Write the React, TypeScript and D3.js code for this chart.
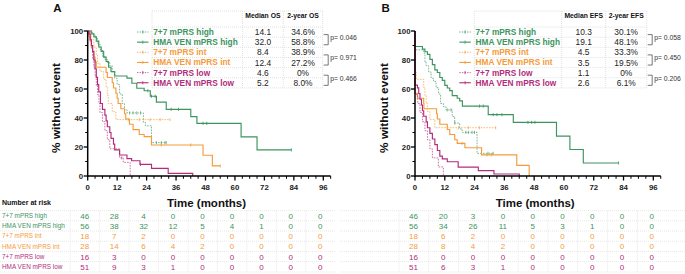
import React from "react";
import * as d3 from "d3";

// ---------- DATA ----------
const seriesNames = ["7+7 mPRS high", "HMA VEN mPRS high", "7+7 mPRS int", "HMA VEN mPRS int", "7+7 mPRS low", "HMA VEN mPRS low"];
const timeTicks = [0, 12, 24, 36, 48, 60, 72, 84, 96];
const yTicks = [0, 20, 40, 60, 80, 100];

// Panel A (OS) step points [time, % without event]
const osHigh77 = [[0,100],[2,97.8],[3,95.6],[4,91.3],[5,87],[6,82.6],[7,80.4],[8,78.3],[9,76],[10,71.7],[11,67.4],[12,63],[13,56.5],[14.1,50],[15,45.7],[16,43.5],[22.7,37],[23.5,34.6],[26,23]];
const osHighVen = [[0,100],[1.5,98],[2.5,96],[3.5,93],[4.5,89],[5.5,86],[6.5,82],[7.5,79],[8.5,75],[9.5,72],[11,69],[16,67.5],[18,64],[20,60.5],[23,58.8],[25.5,55],[28,51],[32,46],[42,41],[44.5,36.3],[62.5,27],[69,18]];
const osInt77 = [[0,100],[1.5,94.4],[2.5,88.9],[3.5,83.3],[4,77.8],[5,72.2],[6.5,66.7],[7.5,61.1],[8,55.6],[8.4,50],[10,44.4],[11.5,38.9]];
const osIntVen = [[0,100],[0.5,96.4],[1,92.9],[1.5,89.3],[2,85.7],[2.5,82.1],[3,78.6],[3.5,75],[7.5,71.4],[8,67.9],[10,64.3],[10.5,60.7],[11.5,57.1],[12,53.6],[12.4,50],[13.5,46.4],[15,42.9],[15.5,39.3],[17,35.7],[18.5,32],[21,28.6],[23,27.2],[26,21.4],[47,14.3],[50.8,7]];
const osLow77 = [[0,100],[1,93.75],[1.5,87.5],[2,81.25],[2.5,75],[3,68.75],[3.5,62.5],[4,56.25],[4.6,50],[5,43.75],[6,37.5],[7,31.25],[8,25],[9,18.75],[13,12.5],[14.5,9.4],[17.3,0]];
const osLowVen = [[0,100],[0.5,98],[1,94],[1.5,90],[2,86],[2.5,80],[3,74],[3.5,68],[4,63],[4.5,58],[5.2,50],[6,46],[7,42],[7.5,38],[8,34],[9,30],[9.5,26],[10.5,22],[11,18],[13,14.5],[16,12],[17.9,10.5],[21.3,8],[26,5.3],[32.8,1.8],[42.8,0]];
const osEnds = [32, 83, 33.5, 54, 17.3, 42.8];
const osCensors = [[17,18.5,20,21.5,28,30,31.5,32],[24.5,26,27.5,34,37,47,48.5,83],[16.5,21,25.4,29.5,33.5],[30,42,54],[13.9],[21.5]];

// Panel B (EFS) step points
const efsHigh77 = [[0,100],[0,87],[3.5,84.8],[4,78.3],[4.5,76],[5.5,71.7],[6.5,67.4],[7.5,65.2],[8.5,60.9],[9.5,56.5],[10.3,50],[11.5,47.8],[12.5,45.6],[15,41],[16,36.5],[18,32.5],[19,30.1],[25,15.6]];
const efsHighVen = [[0,100],[0,89.3],[3,87.5],[4,85.7],[5,83.9],[6,80.4],[7,76.8],[8,73.2],[9,71.4],[10,67.9],[11,66],[12,62.5],[13,60.7],[14,58.9],[15,55.4],[17,53.6],[18,51.8],[19.1,48.2],[29.5,42.3],[39.6,37],[57,27.5],[62.4,18.3],[67.8,9]];
const efsInt77 = [[0,100],[0,72.2],[0.5,66.7],[3.5,61.1],[4,55.6],[4.5,50],[5,44.4],[6,38.9],[8,33.3]];
const efsIntVen = [[0,100],[0,57.1],[1,53.6],[3.5,50],[3.6,46.4],[8.7,42.9],[9,39.3],[10,35.7],[13,32.1],[14,28.6],[16,25],[17,22.5],[20.1,19.5],[26.8,14.6],[41,7.3],[46,0]];
const efsLow77 = [[0,100],[0,56.25],[1.1,50],[2,43.75],[3,37.5],[4,31.25],[5,25],[6,18.75],[7,12.5],[9.4,6.25],[11.4,0]];
const efsLowVen = [[0,100],[0,62.7],[1,60.8],[1.5,56.9],[2,52.9],[2.6,49],[3,45],[3.5,41.2],[4.5,37.3],[5,33.3],[6,29.4],[7,25.5],[8,21.6],[9,17.6],[10,13.7],[11,11.8],[13,9.8],[17.4,6.1],[25.5,3.7],[31.8,1.4],[42,0]];
const efsEnds = [31.5, 82, 32.5, 46, 11.4, 42];
const efsCensors = [[13,14.5,16,20.5,21.5,23,24,29.4,31.5],[26,27.5,31.5,33,35,45.5,47,48.3,82],[17.5,21.5,26,32.5],[19,29,30.7],[],[]];

// Legend tables
const osMedian = ["14.1", "32.0", "8.4", "12.4", "4.6", "5.2"];
const os2yr = ["34.6%", "58.8%", "38.9%", "27.2%", "0%", "8.0%"];
const osP = ["p= 0.046", "p= 0.971", "p= 0.466"];
const efsMedian = ["10.3", "19.1", "4.5", "3.5", "1.1", "2.6"];
const efs2yr = ["30.1%", "48.1%", "33.3%", "19.5%", "0%", "6.1%"];
const efsP = ["p= 0.058", "p= 0.450", "p= 0.206"];

// Numbers at risk
const riskA = [
  [46, 28, 4, 0, 0, 0, 0, 0, 0],
  [56, 38, 32, 12, 5, 4, 1, 0, 0],
  [18, 7, 2, 0, 0, 0, 0, 0, 0],
  [28, 14, 6, 4, 2, 0, 0, 0, 0],
  [16, 3, 0, 0, 0, 0, 0, 0, 0],
  [51, 9, 3, 1, 0, 0, 0, 0, 0],
];
const riskB = [
  [46, 20, 3, 0, 0, 0, 0, 0, 0],
  [56, 34, 26, 11, 5, 3, 1, 0, 0],
  [18, 6, 2, 0, 0, 0, 0, 0, 0],
  [28, 8, 4, 2, 0, 0, 0, 0, 0],
  [16, 0, 0, 0, 0, 0, 0, 0, 0],
  [51, 6, 3, 1, 0, 0, 0, 0, 0],
];

// ---------- STYLE ----------
const GREEN = "#3c9460";
const ORANGE = "#f59b3a";
const MAGENTA = "#b22c7c";
const colors = [GREEN, GREEN, ORANGE, ORANGE, MAGENTA, MAGENTA];
const dashed = [true, false, true, false, true, false];
const FONT = "'Liberation Sans', Arial, sans-serif";

const yScale = d3.scaleLinear().domain([0, 100]).range([176, 31]);

function survAt(pts: number[][], t: number) {
  let s = pts[0][1];
  for (const p of pts) if (p[0] <= t) s = p[1];
  return s;
}

function Panel({ x0, x96, label, labelX, curves, ends, censors, medians, twoYr, pvals, headMed, head2, tbl, risk, riskShift, gridShift, gridX0, gridX1, showRiskLabels }: any) {
  const x = d3.scaleLinear().domain([0, 96]).range([x0, x96]);
  const line = d3.line<number[]>().x(d => x(d[0])).y(d => yScale(d[1])).curve(d3.curveStepAfter);
  const minorX = d3.range(0, 100, 3);
  const minorY = d3.range(0, 101, 10);
  const rowY = (i: number) => 32 + i * 10.15;
  const riskY = (i: number) => 215.8 + i * 10.2;
  const [tL, tV1, tV2, tR] = tbl;
  const c1 = (tV1 + tV2) / 2, c2 = (tV2 + tR) / 2;
  return (
    <g>
      <text x={labelX} y={11.8} fontSize={11.5} fontWeight="bold" fontFamily={FONT} fill="#111">{label}</text>
      {/* risk table grid */}
      {d3.range(7).map(i => {
        const yy = i < 6 ? riskY(i) - 5.2 : riskY(5) + 5.2;
        return <line key={"rh" + i} x1={gridX0} x2={gridX1} y1={yy} y2={yy} stroke="#d6d6d6" strokeWidth={0.6} strokeDasharray="1,1" />;
      })}
      {timeTicks.map((t, i) => (
        <line key={"rv" + i} x1={x(t) - gridShift} x2={x(t) - gridShift} y1={riskY(0) - 5.2} y2={riskY(5) + 5.2} stroke="#d6d6d6" strokeWidth={0.6} strokeDasharray="1,1" />
      ))}
      {risk.map((row: number[], r: number) => (
        <g key={"rr" + r}>
          {showRiskLabels && <text x={2} y={riskY(r) + 2.2} fontSize={6.4} fontFamily={FONT} fill={colors[r]}>{seriesNames[r]}</text>}
          {row.map((v, j) => (
            <text key={j} x={x(timeTicks[j]) - riskShift} y={riskY(r) + 2.9} fontSize={8} textAnchor="middle" fontFamily={FONT} fill={colors[r]}>{v}</text>
          ))}
        </g>
      ))}
      {/* curves */}
      {curves.map((pts: number[][], i: number) => {
        const last = pts[pts.length - 1];
        const all = last[0] < ends[i] ? [...pts, [ends[i], last[1]]] : pts;
        return (
          <g key={"c" + i}>
            <path d={line(all) || ""} fill="none" stroke={colors[i]} strokeWidth={dashed[i] ? 0.9 : 1.15} strokeDasharray={dashed[i] ? "1.6,1.2" : undefined} opacity={dashed[i] ? 0.75 : 1} />
            {censors[i].map((t: number, k: number) => {
              const yy = yScale(survAt(pts, t));
              return <line key={k} x1={x(t)} x2={x(t)} y1={yy - 1.6} y2={yy + 1.6} stroke={colors[i]} strokeWidth={0.8} opacity={dashed[i] ? 0.8 : 1} />;
            })}
          </g>
        );
      })}
      {/* axes */}
      <line x1={x0} x2={x(99)} y1={176} y2={176} stroke="#000" strokeWidth={1.5} />
      <line x1={x0} x2={x0} y1={176.7} y2={31} stroke="#000" strokeWidth={1.5} />
      {minorX.map(t => (
        <line key={"mx" + t} x1={x(t)} x2={x(t)} y1={176} y2={t % 12 === 0 ? 180.5 : 178.8} stroke="#000" strokeWidth={t % 12 === 0 ? 1.3 : 1} />
      ))}
      {timeTicks.map(t => (
        <text key={"xl" + t} x={x(t)} y={189.5} fontSize={7.8} fontWeight="bold" textAnchor="middle" fontFamily={FONT} fill="#222">{t}</text>
      ))}
      {minorY.map(v => (
        <line key={"my" + v} x1={v % 20 === 0 ? x0 - 4 : x0 - 2.5} x2={x0} y1={yScale(v)} y2={yScale(v)} stroke="#000" strokeWidth={v % 20 === 0 ? 1.3 : 1} />
      ))}
      {yTicks.map(v => (
        <text key={"yl" + v} x={x0 - 4.5} y={yScale(v) + 2.8} fontSize={7.8} fontWeight="bold" textAnchor="end" fontFamily={FONT} fill="#222">{v}</text>
      ))}
      <text transform={`translate(${x0 - 27.5},108) rotate(-90)`} fontSize={11.8} fontWeight="bold" textAnchor="middle" fontFamily={FONT} fill="#111">% without event</text>
      <text x={(x0 + x96) / 2 + 1} y={206.7} fontSize={11.5} fontWeight="bold" textAnchor="middle" fontFamily={FONT} fill="#111">Time (months)</text>
      {/* legend table */}
      <line x1={tL} x2={tR} y1={11} y2={11} stroke="#cfcfcf" strokeWidth={0.6} strokeDasharray="1,1" />
      {d3.range(7).map(i => {
        const yy = rowY(i) - 5;
        return <line key={"lh" + i} x1={tL} x2={tR} y1={yy} y2={yy} stroke="#cfcfcf" strokeWidth={0.6} strokeDasharray="1,1" />;
      })}
      {[tL, tV1, tV2, tR].map((xx, i) => (
        <line key={"lv" + i} x1={xx} x2={xx} y1={11} y2={rowY(5) + 5} stroke="#cfcfcf" strokeWidth={0.6} strokeDasharray="1,1" />
      ))}
      <text x={c1} y={17.5} fontSize={6.8} fontWeight="bold" textAnchor="middle" fontFamily={FONT} fill="#111">{headMed}</text>
      <text x={c2} y={17.5} fontSize={6.8} fontWeight="bold" textAnchor="middle" fontFamily={FONT} fill="#111">{head2}</text>
      {seriesNames.map((n, i) => (
        <g key={"lg" + i}>
          <line x1={tL - 15} x2={tL - 3.5} y1={rowY(i)} y2={rowY(i)} stroke={colors[i]} strokeWidth={dashed[i] ? 0.9 : 1.1} strokeDasharray={dashed[i] ? "1.4,1.2" : undefined} opacity={dashed[i] ? 0.8 : 1} />
          <line x1={tL - 9.2} x2={tL - 9.2} y1={rowY(i) - 1.6} y2={rowY(i) + 1.6} stroke={colors[i]} strokeWidth={0.8} />
          <text x={tL + 1.2} y={rowY(i) + 3} fontSize={8.3} fontWeight="bold" fontFamily={FONT} fill={colors[i]}>{n}</text>
          <text x={c1} y={rowY(i) + 3.1} fontSize={8.4} textAnchor="middle" fontFamily={FONT} fill="#222">{medians[i]}</text>
          <text x={c2} y={rowY(i) + 3.1} fontSize={8.4} textAnchor="middle" fontFamily={FONT} fill="#222">{twoYr[i]}</text>
        </g>
      ))}
      {pvals.map((p: string, k: number) => {
        const ya = rowY(2 * k) + 2.6, yb = rowY(2 * k + 1) + 2.6;
        const bx = tR + 1;
        return (
          <g key={"p" + k}>
            <path d={`M${bx},${ya}H${bx + 4.5}V${yb}H${bx}`} fill="none" stroke="#555" strokeWidth={0.8} />
            <text x={bx + 6.5} y={(ya + yb) / 2 + 0.3} fontSize={6.8} fontFamily={FONT} fill="#333">{p}</text>
          </g>
        );
      })}
    </g>
  );
}

export default function App() {
  return (
    <svg width={685} height={274} style={{ position: "absolute", left: 0, top: 0, background: "#fff" }}>
      <rect width={685} height={274} fill="#fff" />
      <text x={2} y={204.6} fontSize={7} fontWeight="bold" fontFamily={FONT} fill="#111">Number at risk</text>
      <Panel x0={87.7} x96={323.3} label="A" labelX={53.3} curves={[osHigh77, osHighVen, osInt77, osIntVen, osLow77, osLowVen]}
        ends={osEnds} censors={osCensors} medians={osMedian} twoYr={os2yr} pvals={osP} headMed="Median OS" head2="2-year OS"
        tbl={[152, 242.5, 283.3, 322.7]} risk={riskA} riskShift={3} gridShift={17.5} gridX0={0} gridX1={336} showRiskLabels={true} />
      <Panel x0={415} x96={653.3} label="B" labelX={381.5} curves={[efsHigh77, efsHighVen, efsInt77, efsIntVen, efsLow77, efsLowVen]}
        ends={efsEnds} censors={efsCensors} medians={efsMedian} twoYr={efs2yr} pvals={efsP} headMed="Median EFS" head2="2-year EFS"
        tbl={[474.3, 561.7, 605.7, 646.7]} risk={riskB} riskShift={1.5} gridShift={16} gridX0={340} gridX1={685} showRiskLabels={false} />
    </svg>
  );
}
